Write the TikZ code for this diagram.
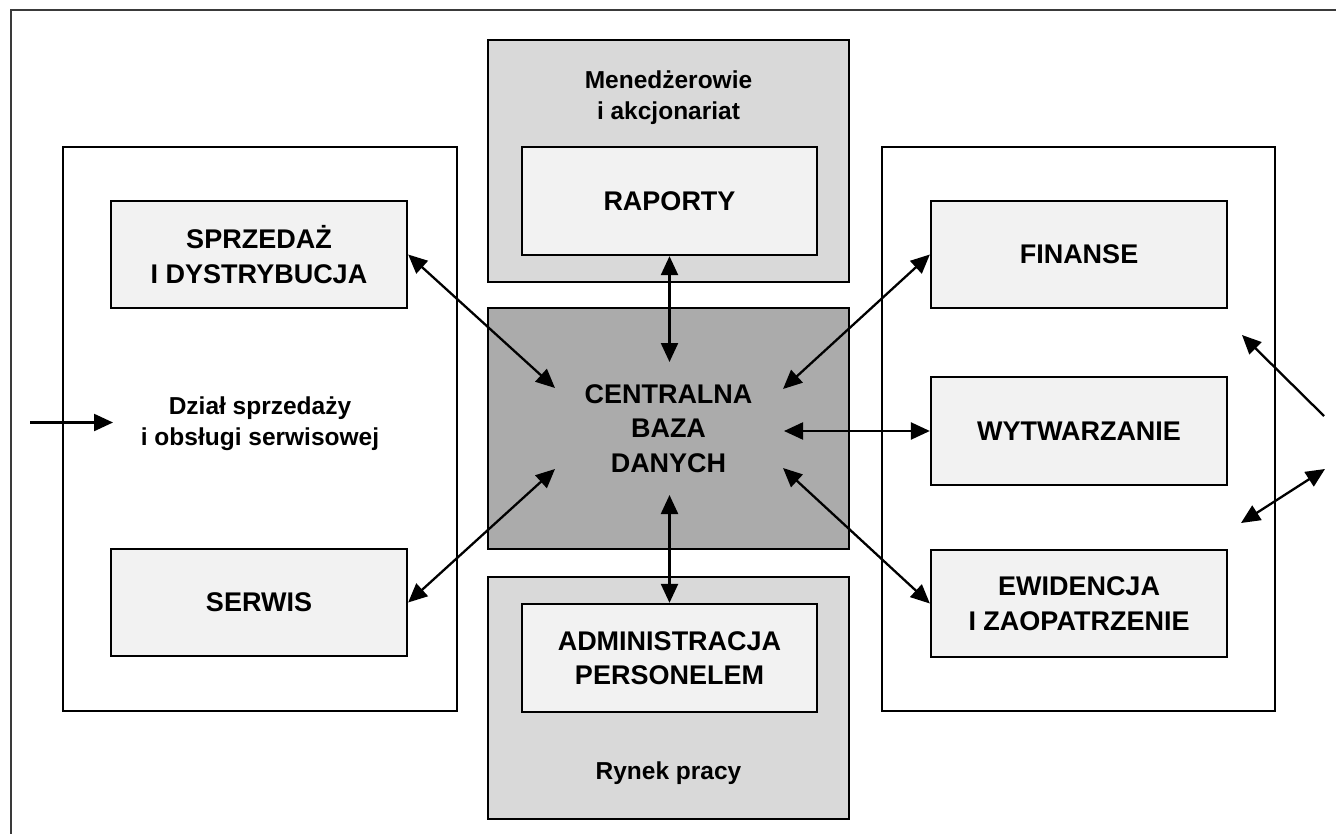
\documentclass[tikz,border=0pt]{standalone}
\usepackage{fontspec}
\setmainfont{Liberation Sans}
\usetikzlibrary{arrows.meta}
\definecolor{centergray}{HTML}{ABABAB}
\definecolor{groupgray}{HTML}{D9D9D9}
\definecolor{palegray}{HTML}{F2F2F2}
\definecolor{framegray}{HTML}{3A3A3A}
\begin{document}
\begin{tikzpicture}[x=1pt,y=-1pt,
  bigfont/.style={font=\bfseries\fontsize{27}{34.5}\selectfont},
  smallfont/.style={font=\bfseries\fontsize{24.5}{31}\selectfont},
  areabox/.style={draw=black, line width=2.3pt, rectangle, inner sep=0pt, fill=white},
  groupbox/.style={draw=black, line width=2.3pt, rectangle, inner sep=0pt, fill=groupgray},
  centerbox/.style={draw=black, line width=2.3pt, rectangle, inner sep=0pt, fill=centergray, bigfont, align=center},
  modbox/.style={draw=black, line width=2.3pt, rectangle, inner sep=0pt, fill=palegray, bigfont, align=center},
  caption/.style={smallfont, align=center, inner sep=0pt},
  tipshape/.tip={Triangle[length=19pt,width=17pt]},
  onearrow/.style={line width=2.3pt, -tipshape},
  twoarrow/.style={line width=2.3pt, tipshape-tipshape},
  framestyle/.style={draw=framegray, line width=1.6pt}
]
\useasboundingbox (0,0) rectangle (1336,834);
\fill[white] (0,0) rectangle (1336,834);
\draw[framestyle] (11,834) -- (11,10) -- (1336,10);

% area boxes
\node[areabox, minimum width=394, minimum height=564] (left) at (260,429) {};
\node[areabox, minimum width=393, minimum height=564] (right) at (1078.5,429) {};
\node[groupbox, minimum width=361, minimum height=242] (top) at (668.5,161) {};
\node[groupbox, minimum width=361, minimum height=242] (bottom) at (668.5,698) {};
\node[centerbox, minimum width=361, minimum height=241] (db) at (668.5,428.5) {CENTRALNA\\BAZA\\DANYCH};

% module boxes
\node[modbox, minimum width=295, minimum height=108] (rap) at (669.5,201) {RAPORTY};
\node[modbox, minimum width=295, minimum height=108] (adm) at (669.5,658) {ADMINISTRACJA\\PERSONELEM};
\node[modbox, minimum width=296, minimum height=107] (spr) at (259,254.5) {SPRZEDAŻ\\I DYSTRYBUCJA};
\node[modbox, minimum width=296, minimum height=107] (ser) at (259,602.5) {SERWIS};
\node[modbox, minimum width=296, minimum height=107] (fin) at (1079,254.5) {FINANSE};
\node[modbox, minimum width=296, minimum height=108] (wyt) at (1079,431) {WYTWARZANIE};
\node[modbox, minimum width=296, minimum height=107] (ewi) at (1079,603.5) {EWIDENCJA\\I ZAOPATRZENIE};

% captions
\node[caption] (mgr) at (668.5,98) {Menedżerowie\\i akcjonariat};
\node[caption] (rynek) at (668.5,773) {Rynek pracy};
\node[caption] (dzial) at (260,424) {Dział sprzedaży\\i obsługi serwisowej};

% free-end coordinates
\coordinate (c1) at (555,388);
\coordinate (c2) at (555,469);
\coordinate (c3) at (669.5,362);
\coordinate (c4) at (669.5,495);
\coordinate (c5) at (783,389);
\coordinate (c6) at (784,431);
\coordinate (c7) at (783,468);
\coordinate (in1) at (30,422.5);
\coordinate (in2) at (113,422.5);
\coordinate (r1) at (1324,416);
\coordinate (r2) at (1242,335);
\coordinate (r3) at (1325,469);
\coordinate (r4) at (1241,523);

% connectors
\draw[twoarrow] (spr.east) -- (c1);
\draw[twoarrow] (ser.east) -- (c2);
\draw[twoarrow] (rap.south) -- (c3);
\draw[twoarrow] (c4) -- (adm.north);
\draw[twoarrow] (fin.west) -- (c5);
\draw[twoarrow] (wyt.west) -- (c6);
\draw[twoarrow] (ewi.west) -- (c7);
\draw[onearrow] (in1) -- (in2);
\draw[onearrow] (r1) -- (r2);
\draw[twoarrow] (r3) -- (r4);
\end{tikzpicture}
\end{document}
